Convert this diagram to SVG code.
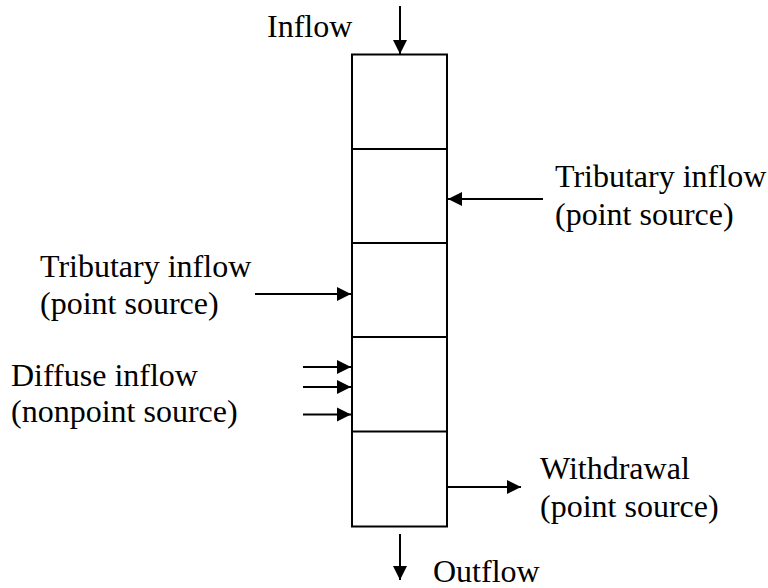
<svg xmlns="http://www.w3.org/2000/svg" width="768" height="588" viewBox="0 0 768 588">
<style>
  .t { font-family: 'Liberation Serif', 'Times New Roman', Times, 'DejaVu Serif', serif; font-size: 32px; fill: #000; }
  .ln { stroke: #000; stroke-width: 2; fill: none; }
</style>
<defs>
  <marker id="ah" markerUnits="userSpaceOnUse" markerWidth="16" markerHeight="16" viewBox="0 0 16 16" refX="15" refY="8" orient="auto">
    <path d="M1,1 L15,8 L1,15 Z" fill="#000"/>
  </marker>
</defs>
<rect width="768" height="588" fill="#fff"/>
<g id="column">
  <rect class="ln" x="352" y="54.5" width="95" height="472"/>
  <line class="ln" x1="352" y1="149" x2="447" y2="149"/>
  <line class="ln" x1="352" y1="243" x2="447" y2="243"/>
  <line class="ln" x1="352" y1="337" x2="447" y2="337"/>
  <line class="ln" x1="352" y1="431.5" x2="447" y2="431.5"/>
</g>
<g id="connectors">
  <line class="ln" x1="400" y1="6" x2="400" y2="54" marker-end="url(#ah)"/>
  <line class="ln" x1="543" y1="199" x2="448" y2="199" marker-end="url(#ah)"/>
  <line class="ln" x1="255" y1="294" x2="351" y2="294" marker-end="url(#ah)"/>
  <line class="ln" x1="303" y1="367" x2="351" y2="367" marker-end="url(#ah)"/>
  <line class="ln" x1="303" y1="387" x2="351" y2="387" marker-end="url(#ah)"/>
  <line class="ln" x1="303" y1="414.5" x2="351" y2="414.5" marker-end="url(#ah)"/>
  <line class="ln" x1="448" y1="487" x2="521" y2="487" marker-end="url(#ah)"/>
  <line class="ln" x1="400" y1="534" x2="400" y2="580" marker-end="url(#ah)"/>
</g>
<g id="labels" class="t" font-family="Liberation Serif, serif" font-size="32">
<g id="label-inflow"><text x="267" y="37">Inflow</text></g>
<g id="label-trib-right">
  <text x="555" y="187">Tributary inflow</text>
  <text x="555" y="225">(point source)</text>
</g>
<g id="label-trib-left">
  <text x="40" y="277">Tributary inflow</text>
  <text x="40" y="314">(point source)</text>
</g>
<g id="label-diffuse">
  <text x="11" y="386">Diffuse inflow</text>
  <text x="11" y="422">(nonpoint source)</text>
</g>
<g id="label-withdrawal">
  <text x="540" y="479">Withdrawal</text>
  <text x="540" y="517">(point source)</text>
</g>
<g id="label-outflow"><text x="433" y="582">Outflow</text></g>
</g>
</svg>
